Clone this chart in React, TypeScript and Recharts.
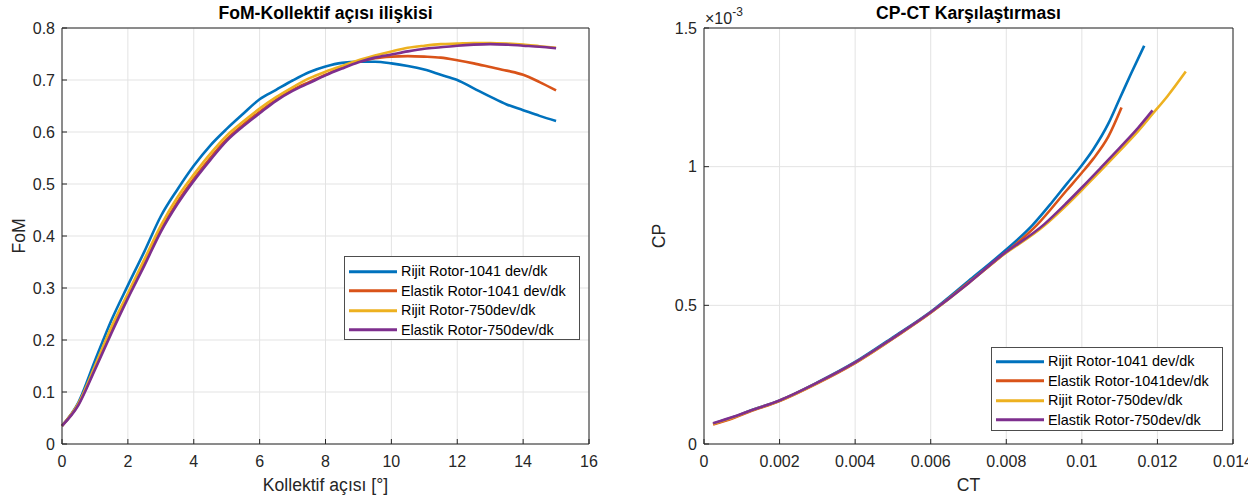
import { LineChart, Line, XAxis, YAxis, CartesianGrid, Legend, Label } from "recharts";

const FONT = '"Liberation Sans", Arial, Helvetica, sans-serif';
const AXIS = "#262626";
const GRID = "#e3e3e3";
const COLORS = ["#0072BD", "#D95319", "#EDB120", "#7E2F8E"];

// --- FoM vs kollektif açısı (left panel) ---
const angles = [
  0, 0.5, 1, 1.5, 2, 2.5, 3, 3.5, 4, 4.5, 5, 5.5, 6, 6.5, 7, 7.5, 8, 8.5, 9, 9.5, 10,
  10.5, 11, 11.5, 12, 12.5, 13, 13.5, 14, 14.5, 15,
];
const fomRijit1041 = [
  0.035, 0.08, 0.16, 0.238, 0.305, 0.37, 0.438, 0.489, 0.535, 0.574, 0.606, 0.635, 0.663,
  0.681, 0.699, 0.715, 0.726, 0.733, 0.735, 0.735, 0.732, 0.727, 0.72, 0.71, 0.7, 0.684,
  0.668, 0.653, 0.642, 0.631, 0.621,
];
const fomElastik1041 = [
  0.035, 0.077, 0.146, 0.218, 0.284, 0.348, 0.412, 0.465, 0.51, 0.55, 0.586, 0.614, 0.639,
  0.662, 0.681, 0.696, 0.71, 0.724, 0.735, 0.742, 0.745, 0.746, 0.745, 0.743, 0.738, 0.732,
  0.725, 0.718, 0.71, 0.696, 0.68,
];
const fomRijit750 = [
  0.035, 0.078, 0.15, 0.225, 0.29, 0.355, 0.42, 0.474, 0.518, 0.558, 0.593, 0.62, 0.645,
  0.667, 0.686, 0.703, 0.716, 0.727, 0.738, 0.747, 0.755, 0.762, 0.766, 0.769, 0.77, 0.771,
  0.771, 0.77, 0.768, 0.765, 0.762,
];
const fomElastik750 = [
  0.035, 0.075, 0.143, 0.213, 0.28, 0.343, 0.408, 0.461, 0.506, 0.546, 0.583, 0.611, 0.636,
  0.66, 0.679, 0.694, 0.709, 0.722, 0.734, 0.743, 0.749, 0.755, 0.76, 0.763, 0.766, 0.768,
  0.769, 0.768, 0.766, 0.764, 0.761,
];
const fomTicksX = [0, 2, 4, 6, 8, 10, 12, 14, 16];
const fomTicksY = [0, 0.1, 0.2, 0.3, 0.4, 0.5, 0.6, 0.7, 0.8];
const fomNames = [
  "Rijit Rotor-1041 dev/dk",
  "Elastik Rotor-1041 dev/dk",
  "Rijit Rotor-750dev/dk",
  "Elastik Rotor-750dev/dk",
];

// --- CP-CT (right panel), CP in units of 1e-3 ---
const ctRijit1041 = [
  0.00024, 0.0008, 0.0012, 0.002, 0.003, 0.004, 0.005, 0.006, 0.007, 0.0078, 0.0087, 0.0092,
  0.0096, 0.01, 0.0103, 0.0107, 0.011, 0.0113, 0.01165,
];
const cpRijit1041 = [
  0.073, 0.098, 0.119, 0.157, 0.222, 0.296, 0.385, 0.477, 0.588, 0.678, 0.79, 0.87, 0.938,
  1.005, 1.062, 1.155, 1.245, 1.335, 1.436,
];
const ctElastik1041 = [
  0.00024, 0.0008, 0.0012, 0.002, 0.003, 0.004, 0.005, 0.006, 0.007, 0.0078, 0.0088, 0.0096,
  0.01, 0.0103, 0.0107, 0.01105,
];
const cpElastik1041 = [
  0.07, 0.095, 0.116, 0.155, 0.219, 0.292, 0.38, 0.473, 0.582, 0.67, 0.788, 0.915, 0.978,
  1.028, 1.108, 1.213,
];
const ctRijit750 = [
  0.00024, 0.0008, 0.0012, 0.002, 0.003, 0.004, 0.005, 0.006, 0.007, 0.0078, 0.009, 0.0096,
  0.01, 0.0105, 0.011, 0.0115, 0.01187, 0.01227, 0.01275,
];
const cpRijit750 = [
  0.072, 0.097, 0.118, 0.156, 0.22, 0.293, 0.381, 0.474, 0.58, 0.67, 0.787, 0.862, 0.916,
  0.986, 1.057, 1.13, 1.19, 1.255, 1.343,
];
const ctElastik750 = [
  0.00024, 0.0008, 0.0012, 0.002, 0.003, 0.004, 0.005, 0.006, 0.007, 0.0078, 0.009, 0.0096,
  0.01, 0.0105, 0.011, 0.0115, 0.01187,
];
const cpElastik750 = [
  0.075, 0.099, 0.119, 0.157, 0.221, 0.294, 0.382, 0.475, 0.58, 0.672, 0.792, 0.87, 0.925,
  0.996, 1.068, 1.142, 1.203,
];
const cpctTicksX = [0, 0.002, 0.004, 0.006, 0.008, 0.01, 0.012, 0.014];
const cpctTicksY = [0, 0.5, 1, 1.5];
const cpctNames = [
  "Rijit Rotor-1041 dev/dk",
  "Elastik Rotor-1041dev/dk",
  "Rijit Rotor-750dev/dk",
  "Elastik Rotor-750dev/dk",
];

const fomRows = angles.map((a, i) => ({
  angle: a,
  r1041: fomRijit1041[i],
  e1041: fomElastik1041[i],
  r750: fomRijit750[i],
  e750: fomElastik750[i],
}));

const zip = (ct: number[], cp: number[]) => ct.map((c, i) => ({ ct: c, cp: cp[i] }));
const cpctSeries = [
  zip(ctRijit1041, cpRijit1041),
  zip(ctElastik1041, cpElastik1041),
  zip(ctRijit750, cpRijit750),
  zip(ctElastik750, cpElastik750),
];

const fmt = (v: number) => String(+v.toFixed(4));
const tickStyle = { fill: AXIS, fontSize: 16 };

function BoxLegend({ payload, order, padTop, rowH }: any) {
  const items = [...(payload ?? [])].sort(
    (a: any, b: any) => order.indexOf(a.value) - order.indexOf(b.value)
  );
  return (
    <div
      style={{
        border: "1px solid #4d4d4d",
        background: "#fff",
        height: "100%",
        boxSizing: "border-box",
        paddingTop: padTop,
        fontFamily: FONT,
      }}
    >
      {items.map((p: any) => (
        <div
          key={p.value}
          style={{ height: rowH, display: "flex", alignItems: "center", whiteSpace: "nowrap" }}
        >
          <svg width={56} height={rowH} style={{ flex: "none" }}>
            <line x1={4} x2={52} y1={rowH / 2} y2={rowH / 2} stroke={p.color} strokeWidth={3} />
          </svg>
          <span style={{ fontSize: 14.4, color: "#000", lineHeight: 1 }}>{p.value}</span>
        </div>
      ))}
    </div>
  );
}

function VerticalLabel({ viewBox, text, x0 }: any) {
  const cy = viewBox.y + viewBox.height / 2;
  return (
    <text
      x={x0}
      y={cy}
      transform={`rotate(-90, ${x0}, ${cy})`}
      textAnchor="middle"
      fontSize={17.6}
      fill={AXIS}
    >
      {text}
    </text>
  );
}

// the "×10^-3" multiplier above the CP axis
function ExponentLabel({ viewBox }: any) {
  return (
    <text x={viewBox.x + viewBox.width + 1} y={viewBox.y - 4} fontSize={16} fill={AXIS}>
      ×10
      <tspan dy={-8} fontSize={12}>
        -3
      </tspan>
    </text>
  );
}

function FomChart() {
  return (
    <LineChart
      width={629}
      height={499}
      data={fomRows}
      margin={{ top: 27, right: 39, bottom: 5, left: 0 }}
    >
      <CartesianGrid stroke={GRID} />
      <XAxis
        dataKey="angle"
        type="number"
        domain={[0, 16]}
        ticks={fomTicksX}
        height={50}
        tickSize={-5}
        tickMargin={17}
        tick={tickStyle}
        stroke={AXIS}
      >
        <Label value="Kollektif açısı [°]" position="insideBottom" offset={3} fontSize={17.6} fill={AXIS} />
      </XAxis>
      <XAxis
        xAxisId="top"
        orientation="top"
        type="number"
        domain={[0, 16]}
        ticks={fomTicksX}
        height={1}
        tickSize={-5}
        tick={false}
        stroke={AXIS}
      >
        <Label
          value="FoM-Kollektif açısı ilişkisi"
          position="top"
          offset={8}
          fontSize={17.6}
          fontWeight="bold"
          fill="#000"
        />
      </XAxis>
      <YAxis
        type="number"
        domain={[0, 0.8]}
        ticks={fomTicksY}
        width={62}
        tickSize={-5}
        tickMargin={12}
        tick={tickStyle}
        tickFormatter={fmt}
        stroke={AXIS}
      >
        <Label content={(p: any) => <VerticalLabel {...p} text="FoM" x0={25} />} />
      </YAxis>
      <YAxis
        yAxisId="right"
        orientation="right"
        type="number"
        domain={[0, 0.8]}
        ticks={fomTicksY}
        width={1}
        tickSize={-5}
        tick={false}
        stroke={AXIS}
      />
      <Legend
        layout="vertical"
        align="center"
        verticalAlign="middle"
        wrapperStyle={{ left: 344, top: 256, width: 236, height: 84 }}
        content={(p: any) => (
          <BoxLegend payload={p.payload} order={fomNames} padTop={4.5} rowH={19.6} />
        )}
      />
      {["r1041", "e1041", "r750", "e750"].map((k, i) => (
        <Line
          key={k}
          dataKey={k}
          name={fomNames[i]}
          type="monotone"
          stroke={COLORS[i]}
          strokeWidth={2.6}
          dot={false}
          isAnimationActive={false}
        />
      ))}
    </LineChart>
  );
}

function CpCtChart() {
  return (
    <LineChart width={629} height={499} margin={{ top: 27, right: 24, bottom: 5, left: 0 }}>
      <CartesianGrid stroke={GRID} />
      <XAxis
        dataKey="ct"
        type="number"
        domain={[0, 0.014]}
        ticks={cpctTicksX}
        height={50}
        tickSize={-5}
        tickMargin={17}
        tick={tickStyle}
        tickFormatter={fmt}
        stroke={AXIS}
        allowDuplicatedCategory={false}
      >
        <Label value="CT" position="insideBottom" offset={3} fontSize={17.6} fill={AXIS} />
      </XAxis>
      <XAxis
        xAxisId="top"
        orientation="top"
        type="number"
        domain={[0, 0.014]}
        ticks={cpctTicksX}
        height={1}
        tickSize={-5}
        tick={false}
        stroke={AXIS}
      >
        <Label
          value="CP-CT Karşılaştırması"
          position="top"
          offset={8}
          fontSize={17.6}
          fontWeight="bold"
          fill="#000"
        />
      </XAxis>
      <YAxis
        type="number"
        domain={[0, 1.5]}
        ticks={cpctTicksY}
        width={75}
        tickSize={-5}
        tickMargin={12}
        tick={tickStyle}
        tickFormatter={fmt}
        stroke={AXIS}
      >
        <Label content={(p: any) => <VerticalLabel {...p} text="CP" x0={36} />} />
        <Label content={(p: any) => <ExponentLabel {...p} />} />
      </YAxis>
      <YAxis
        yAxisId="right"
        orientation="right"
        type="number"
        domain={[0, 1.5]}
        ticks={cpctTicksY}
        width={1}
        tickSize={-5}
        tick={false}
        stroke={AXIS}
      />
      <Legend
        layout="vertical"
        align="center"
        verticalAlign="middle"
        wrapperStyle={{ left: 362, top: 347, width: 232, height: 84 }}
        content={(p: any) => (
          <BoxLegend payload={p.payload} order={cpctNames} padTop={3.5} rowH={19.6} />
        )}
      />
      {cpctSeries.map((s, i) => (
        <Line
          key={cpctNames[i]}
          data={s}
          dataKey="cp"
          name={cpctNames[i]}
          type="monotone"
          stroke={COLORS[i]}
          strokeWidth={2.6}
          dot={false}
          isAnimationActive={false}
        />
      ))}
    </LineChart>
  );
}

export default function App() {
  return (
    <div
      style={{
        position: "fixed",
        left: 0,
        top: 0,
        width: 1258,
        height: 499,
        background: "#fff",
        overflow: "hidden",
        fontFamily: FONT,
      }}
    >
      <div style={{ position: "absolute", left: 0, top: 0 }}>
        <FomChart />
      </div>
      {/* the source figure is cropped just past the last CT tick label */}
      <div style={{ position: "absolute", left: 629, top: 0, width: 619, height: 499, overflow: "hidden" }}>
        <CpCtChart />
      </div>
    </div>
  );
}
